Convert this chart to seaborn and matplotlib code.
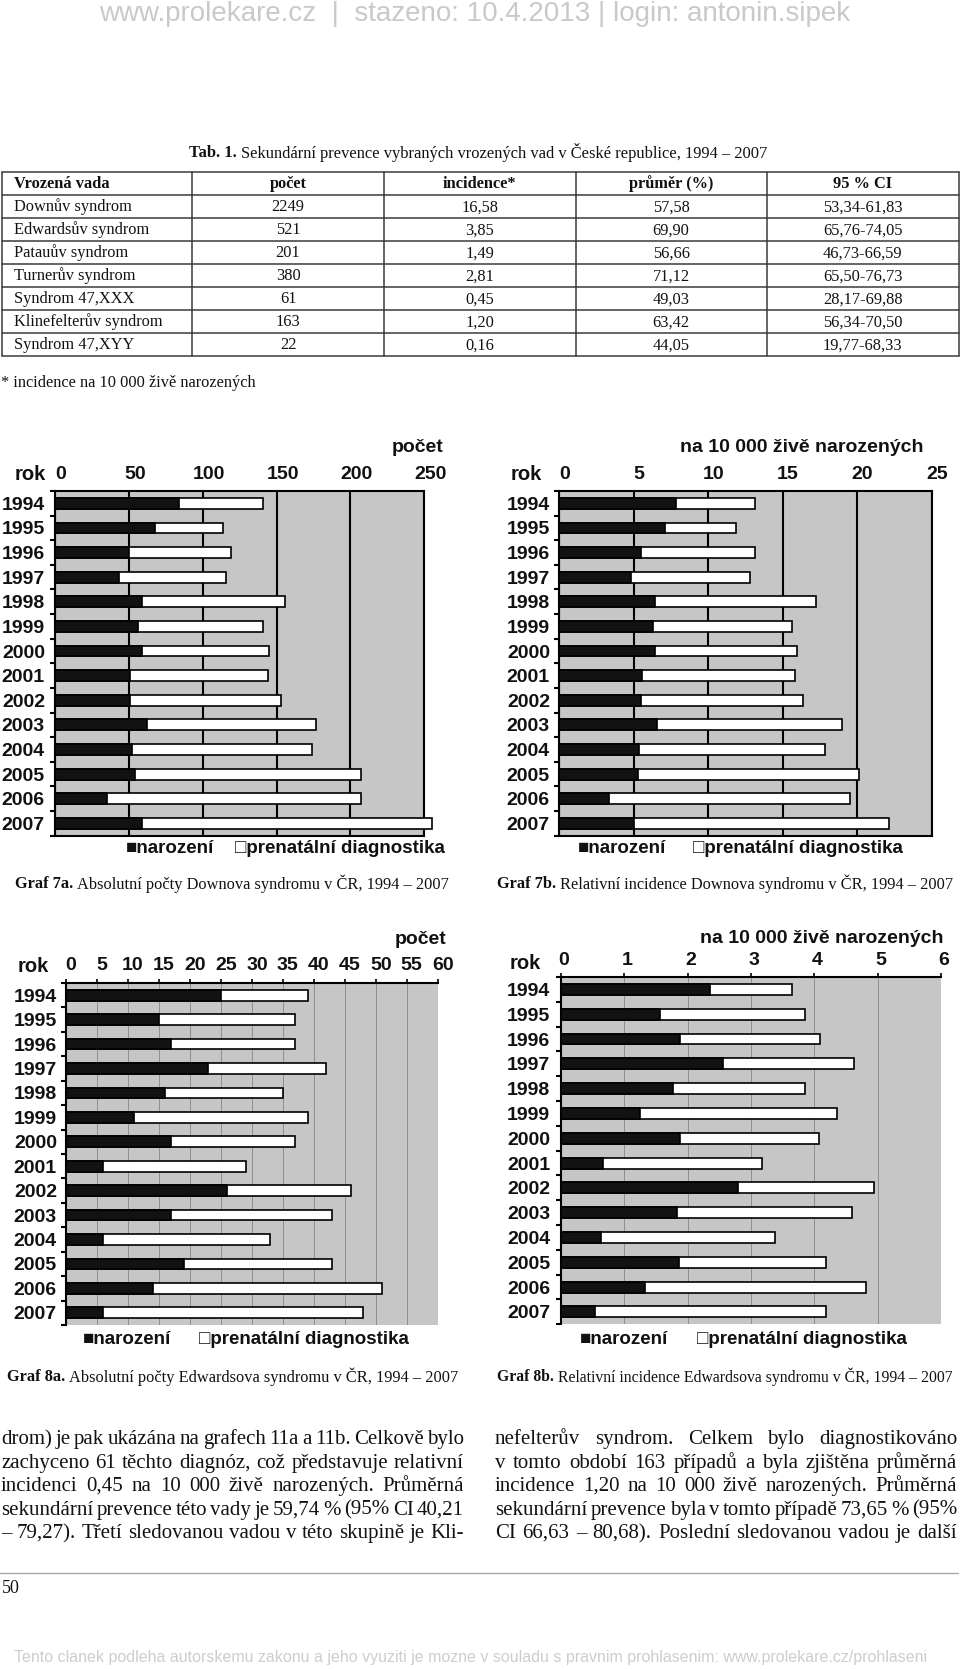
import numpy as np
import pandas as pd
import matplotlib
matplotlib.use("Agg")
import matplotlib.pyplot as plt
import seaborn as sns
from matplotlib.font_manager import FontProperties
from matplotlib.lines import Line2D
from matplotlib.transforms import ScaledTranslation

# ---------------- data ----------------
years = [str(y) for y in range(1994, 2008)]

down_abs_narozeni = [84, 68, 50, 43, 59, 56, 59, 51, 51, 62, 52, 54, 35, 59]
down_abs_prenatal = [57, 46, 69, 73, 97, 85, 86, 93, 102, 115, 122, 153, 172, 196]

down_rel_narozeni = [7.83, 7.09, 5.46, 4.79, 6.42, 6.26, 6.42, 5.53, 5.48, 6.53, 5.35, 5.26, 3.36, 5.01]
down_rel_prenatal = [5.32, 4.77, 7.69, 8.01, 10.81, 9.36, 9.55, 10.31, 10.90, 12.42, 12.48, 14.87, 16.15, 17.14]

edw_abs_narozeni = [25, 15, 17, 23, 16, 11, 17, 6, 26, 17, 6, 19, 14, 6]
edw_abs_prenatal = [14, 22, 20, 19, 19, 28, 20, 23, 20, 26, 27, 24, 37, 42]

edw_rel_narozeni = [2.35, 1.56, 1.88, 2.55, 1.77, 1.25, 1.88, 0.67, 2.80, 1.83, 0.63, 1.87, 1.33, 0.53]
edw_rel_prenatal = [1.30, 2.29, 2.21, 2.08, 2.09, 3.10, 2.19, 2.51, 2.14, 2.76, 2.75, 2.32, 3.49, 3.65]

table_header = ["Vrozená vada", "počet", "incidence*", "průměr (%)", "95 % CI"]
table_vada = ["Downův syndrom", "Edwardsův syndrom", "Patauův syndrom", "Turnerův syndrom",
              "Syndrom 47,XXX", "Klinefelterův syndrom", "Syndrom 47,XYY"]
table_pocet = ["2249", "521", "201", "380", "61", "163", "22"]
table_incidence = ["16,58", "3,85", "1,49", "2,81", "0,45", "1,20", "0,16"]
table_prumer = ["57,58", "69,90", "56,66", "71,12", "49,03", "63,42", "44,05"]
table_ci = ["53,34-61,83", "65,76-74,05", "46,73-66,59", "65,50-76,73",
            "28,17-69,88", "56,34-70,50", "19,77-68,33"]

left_lines = [
    "drom) je pak ukázána na grafech 11a a 11b. Celkově bylo",
    "zachyceno 61 těchto diagnóz, což představuje relativní",
    "incidenci 0,45 na 10 000 živě narozených. Průměrná",
    "sekundární prevence této vady je 59,74 % (95% CI 40,21",
    "– 79,27). Třetí sledovanou vadou v této skupině je Kli-",
]
right_lines = [
    "nefelterův syndrom. Celkem bylo diagnostikováno",
    "v tomto období 163 případů a byla zjištěna průměrná",
    "incidence 1,20 na 10 000 živě narozených. Průměrná",
    "sekundární prevence byla v tomto případě 73,65 % (95%",
    "CI 66,63 – 80,68). Poslední sledovanou vadou je další",
]

# ---------------- setup ----------------
W, H = 960, 1669
sns.set_theme(style="white")
SANS = ["Liberation Sans", "DejaVu Sans"]
SERIF = ["Liberation Serif", "DejaVu Serif"]
plt.rcParams["font.family"] = SANS

fig = plt.figure(figsize=(W / 100, H / 100), dpi=100)
fig.patch.set_facecolor("white")
renderer = fig.canvas.get_renderer()


def fx(x):
    return x / W


def fy(y):
    return 1 - y / H


def tw(s, family, size, weight="normal"):
    fp = FontProperties(family=family, size=size, weight=weight)
    w, h, d = renderer.get_text_width_height_descent(s, fp, ismath=False)
    return w


def space_w(family, size, weight="normal"):
    return tw("a a", family, size, weight) - tw("aa", family, size, weight)


def draw_runs(x, y, runs, family, size, ha="left", va="center", color="black", width=None):
    def total(sz):
        ws = [tw(t, family, sz, w) for t, w in runs]
        gaps = [space_w(family, sz, runs[i][1]) for i in range(len(runs) - 1)]
        return ws, gaps, sum(ws) + sum(gaps)
    ws, gaps, tot = total(size)
    if width is not None:
        size = size * width / tot
        ws, gaps, tot = total(size)
    if ha == "center":
        x0 = x - tot / 2
    elif ha == "right":
        x0 = x - tot
    else:
        x0 = x
    for i, ((t, w), wd) in enumerate(zip(runs, ws)):
        fig.text(fx(x0), fy(y), t, family=family, size=size, weight=w,
                 ha="left", va=va, color=color)
        x0 += wd + (gaps[i] if i < len(gaps) else 0)


def justify(lines, x0, x1, baselines, family, size):
    for line, yb in zip(lines, baselines):
        words = line.split(" ")
        ws = [tw(w, family, size) for w in words]
        gap = (x1 - x0 - sum(ws)) / (len(words) - 1)
        x = x0
        for w, wd in zip(words, ws):
            fig.text(fx(x), fy(yb), w, family=family, size=size, ha="left",
                     va="baseline", color="#111111")
            x += wd + gap


# ---------------- header watermark ----------------
draw_runs(474.5, 14, [("www.prolekare.cz  |  stazeno: 10.4.2013 | login: antonin.sipek", "normal")],
          SANS, 18, ha="center", color="#c9c9c9", width=753)

# ---------------- table ----------------
draw_runs(478.5, 153, [("Tab. 1.", "bold"),
                       ("Sekundární prevence vybraných vrozených vad v České republice, 1994 – 2007", "normal")],
          SERIF, 12, ha="center", color="#111111", width=577)

col_x = [1.5, 192.3, 383.8, 575.6, 766.7, 958.5]
row_y = [171.7 + 23.0 * k for k in range(9)]
for x in col_x:
    fig.add_artist(Line2D([fx(x), fx(x)], [fy(row_y[0]), fy(row_y[-1])], color="#3a3a3a", lw=1.1))
for y in row_y:
    fig.add_artist(Line2D([fx(col_x[0]), fx(col_x[-1])], [fy(y), fy(y)], color="#3a3a3a", lw=1.1))

TFS = 11.8
rows = [table_header] + [list(r) for r in zip(table_vada, table_pocet, table_incidence, table_prumer, table_ci)]
for r, row in enumerate(rows):
    yb = (row_y[r] + row_y[r + 1]) / 2 + 5.0
    weight = "bold" if r == 0 else "normal"
    for c, val in enumerate(row):
        if c == 0:
            fig.text(fx(14), fy(yb), val, family=SERIF, size=TFS, weight=weight,
                     ha="left", va="baseline", color="#111111")
        else:
            xc = (col_x[c] + col_x[c + 1]) / 2
            fig.text(fx(xc), fy(yb), val, family=SERIF, size=TFS, weight=weight,
                     ha="center", va="baseline", color="#111111")

draw_runs(1, 383, [("* incidence na 10 000 živě narozených", "normal")], SERIF, 12,
          color="#111111", width=254)


# ---------------- charts ----------------
def draw_chart(box, nar, pren, xmax, step, heavy, xpad, ypad, dx, unit_text, unit_xy, rok_xy,
               legend_xy, caption_xy, caption_runs, caption_w):
    left, top, right, bottom = box
    ax = fig.add_axes([fx(left), fy(bottom), (right - left) / W, (bottom - top) / H])
    df = pd.DataFrame({"rok": years, "narozeni": nar, "prenatalni": pren})
    df["celkem"] = df["narozeni"] + df["prenatalni"]
    sns.barplot(data=df, x="celkem", y="rok", orient="y", color="white", saturation=1,
                edgecolor="black", linewidth=1.2, width=0.44, errorbar=None, ax=ax, zorder=3)
    sns.barplot(data=df, x="narozeni", y="rok", orient="y", color="#121212", saturation=1,
                edgecolor="black", linewidth=1.2, width=0.44, errorbar=None, ax=ax, zorder=4)
    for p in ax.patches:
        p.set_clip_on(False)
    ax.set_xlim(0, xmax)
    ax.set_ylim(13.5, -0.5)
    ax.set_facecolor("#c6c6c6")
    ax.set_xlabel("")
    ax.set_ylabel("")
    ticks = np.arange(0, xmax + step / 2, step)
    ax.set_xticks(ticks)
    ax.set_xticklabels([f"{t:g}" for t in ticks])
    ax.xaxis.tick_top()
    if heavy:
        ax.grid(axis="x", color="black", lw=1.5)
    else:
        ax.grid(axis="x", color="#8e8e8e", lw=0.7)
    ax.grid(axis="y", visible=False)
    ax.set_axisbelow(True)
    for s in ax.spines.values():
        s.set_color("black")
        s.set_linewidth(1.5)
    ax.spines["right"].set_visible(heavy)
    ax.spines["bottom"].set_visible(heavy)

    ax.set_yticks(range(len(years)))
    ax.set_yticklabels(years)
    ax.set_yticks(np.arange(-0.5, len(years), 1), minor=True)
    ax.tick_params(axis="y", which="major", left=False, length=0, pad=ypad, labelsize=14)
    ax.tick_params(axis="y", which="minor", left=True, length=3.6, width=1.5, color="black",
                   direction="out")
    ax.tick_params(axis="x", which="major", top=True, bottom=False, labeltop=True,
                   labelbottom=False, length=(0 if heavy else 2.8), width=1.2, color="black",
                   direction="out", pad=xpad, labelsize=14)
    for lbl in ax.get_yticklabels():
        lbl.set_fontweight("bold")
        lbl.set_color("#111111")
    off = ScaledTranslation(dx / 100, 0, fig.dpi_scale_trans)
    for lbl in ax.get_xticklabels():
        lbl.set_fontweight("bold")
        lbl.set_color("#111111")
        lbl.set_transform(lbl.get_transform() + off)

    fig.text(fx(rok_xy[0]), fy(rok_xy[1]), "rok", family=SANS, size=14.5, weight="bold",
             ha="left", va="center", color="#111111")
    fig.text(fx(unit_xy[0]), fy(unit_xy[1]), unit_text, family=SANS, size=14, weight="bold",
             ha="center", va="center", color="#111111")
    fig.text(fx(legend_xy[0]), fy(legend_xy[2]), "■narození", family=SANS, size=13.5,
             weight="bold", ha="left", va="center", color="#111111")
    fig.text(fx(legend_xy[1]), fy(legend_xy[2]), "□prenatální diagnostika", family=SANS,
             size=13.5, weight="bold", ha="left", va="center", color="#111111")
    draw_runs(caption_xy[0], caption_xy[1], caption_runs, SERIF, 12.5, color="#111111",
              width=caption_w)
    return ax


draw_chart((55, 491, 424.3, 835.7), down_abs_narozeni, down_abs_prenatal, 250, 50, True,
           5.8, 7.2, 6, "počet", (417.5, 448), (15, 475), (126, 235, 848),
           (15, 884), [("Graf 7a.", "bold"), ("Absolutní počty Downova syndromu v ČR, 1994 – 2007", "normal")], 435)

draw_chart((559.3, 491, 931.7, 835.7), down_rel_narozeni, down_rel_prenatal, 25, 5, True,
           5.8, 6.7, 5, "na 10 000 živě narozených", (802, 448), (511, 475), (578, 693, 848),
           (497, 884), [("Graf 7b.", "bold"), ("Relativní incidence Downova syndromu v ČR, 1994 – 2007", "normal")], 456)

draw_chart((66, 983, 437.7, 1325), edw_abs_narozeni, edw_abs_prenatal, 60, 5, False,
           3.8, 6.5, 5, "počet", (420.5, 939), (18, 966.7), (83, 199, 1339),
           (7, 1377), [("Graf 8a.", "bold"), ("Absolutní počty Edwardsova syndromu v ČR, 1994 – 2007", "normal")], 451)

draw_chart((561, 977, 941, 1324.3), edw_rel_narozeni, edw_rel_prenatal, 6, 1, False,
           2.7, 7.9, 3, "na 10 000 živě narozených", (822, 938), (510, 963), (580, 697, 1339),
           (497, 1377), [("Graf 8b.", "bold"), ("Relativní incidence Edwardsova syndromu v ČR, 1994 – 2007", "normal")], 456)

# ---------------- body text ----------------
fs = 15.0
while fs > 9:
    ok = True
    for lines, x0, x1 in ((left_lines, 1, 464), (right_lines, 495, 957)):
        for line in lines:
            words = line.split(" ")
            need = sum(tw(w, SERIF, fs) for w in words) + (len(words) - 1) * 3.0
            if need > x1 - x0:
                ok = False
    if ok:
        break
    fs -= 0.1

baselines = [1444, 1467.5, 1491, 1514.5, 1538]
justify(left_lines, 1, 464, baselines, SERIF, fs)
justify(right_lines, 495, 957, baselines, SERIF, fs)

fig.add_artist(Line2D([fx(0), fx(958)], [fy(1573), fy(1573)], color="#a8a8a8", lw=1.0))
fig.text(fx(2), fy(1588), "50", family=SERIF, size=13, ha="left", va="center", color="#111111")

draw_runs(470.5, 1657, [("Tento clanek podleha autorskemu zakonu a jeho vyuziti je mozne v souladu s pravnim prohlasenim: www.prolekare.cz/prohlaseni", "normal")],
          SANS, 12, ha="center", color="#cdcdcd", width=915)

fig.savefig("out.png", dpi=100, facecolor="white")
